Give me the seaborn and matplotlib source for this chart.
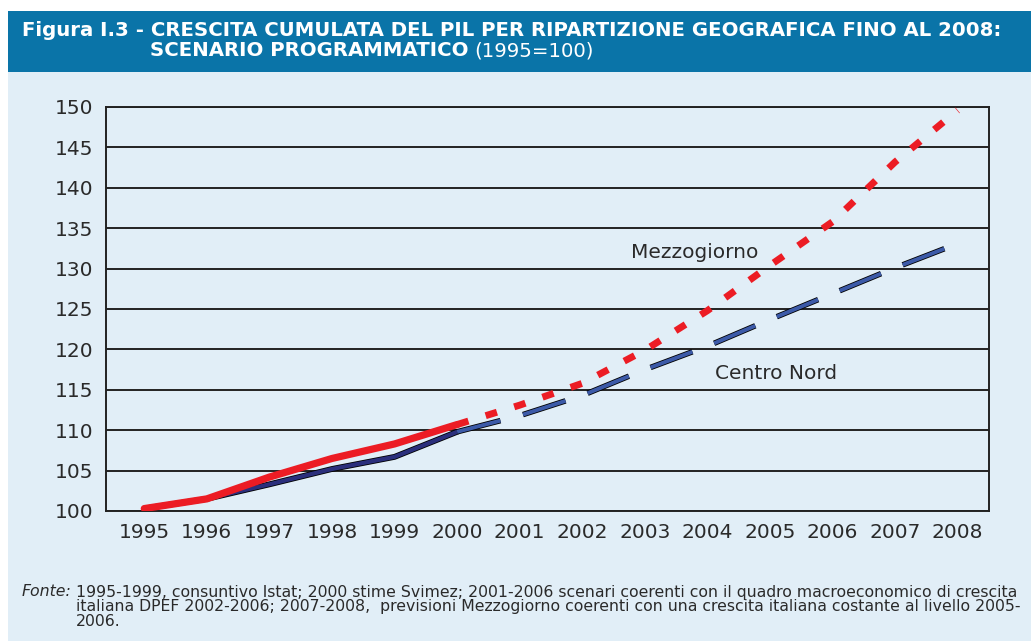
import numpy as np
import pandas as pd
import seaborn as sns
import matplotlib.pyplot as plt
import matplotlib.patheffects as pe
from matplotlib.patches import Rectangle

# dati (1995=100)
anni = [1995, 1996, 1997, 1998, 1999, 2000, 2001, 2002, 2003, 2004, 2005, 2006, 2007, 2008]
centro_nord = [100.3, 101.5, 103.3, 105.2, 106.7, 109.8, 111.8, 114.3, 117.5, 120.4, 123.7, 126.9, 130.1, 133.1]
mezzogiorno = [100.3, 101.5, 104.2, 106.5, 108.3, 110.7, 113.1, 115.8, 119.9, 124.8, 130.4, 135.8, 143.2, 149.6]
y_ticks = [100, 105, 110, 115, 120, 125, 130, 135, 140, 145, 150]

df = pd.DataFrame({"anno": anni, "Centro Nord": centro_nord, "Mezzogiorno": mezzogiorno})
storico = df[df["anno"] <= 2000]
scenario = df[df["anno"] >= 2000]

BG = "#e1eef7"
HEADER = "#0a74a8"
TXT = "#2a2a2a"

sns.set_style("white")
plt.rcParams["font.family"] = ["DejaVu Sans"]

fig = plt.figure(figsize=(10.31, 6.41), dpi=100)
fig.patch.set_facecolor("white")
# sfondo azzurro e fascia del titolo
fig.add_artist(Rectangle((8 / 1031, 0), 1, 1 - 72 / 641, transform=fig.transFigure,
                         facecolor=BG, edgecolor="none", zorder=-2))
fig.add_artist(Rectangle((8 / 1031, 1 - 72 / 641), 1, 61 / 641, transform=fig.transFigure,
                         facecolor=HEADER, edgecolor="none", zorder=-1))

ax = fig.add_axes([106 / 1031, 1 - 511 / 641, (989 - 106) / 1031, (511 - 107) / 641])
ax.set_facecolor(BG)

# tratti storici (continui)
sns.lineplot(data=storico, x="anno", y="Centro Nord", ax=ax, color="#2b2f7c", linewidth=3.0,
             path_effects=[pe.Stroke(linewidth=4.2, foreground="black"), pe.Normal()], zorder=3)
sns.lineplot(data=storico, x="anno", y="Mezzogiorno", ax=ax, color="#ec1c24", linewidth=5.2, zorder=4)

# scenari (tratteggiati)
sns.lineplot(data=scenario, x="anno", y="Centro Nord", ax=ax, color="#3c5aa8", linewidth=2.8,
             zorder=3, path_effects=[pe.Stroke(linewidth=4.0, foreground="black"), pe.Normal()])
ax.lines[-1].set_dashes((11.5, 6))
sns.lineplot(data=scenario, x="anno", y="Mezzogiorno", ax=ax, color="#ec1c24", linewidth=5.0,
             zorder=4)
ax.lines[-1].set_dashes((1.7, 2.6))

ax.set_xlim(1994.5 - 7 / 62.6, 2008.5)
ax.set_ylim(100, 150)
ax.set_yticks(y_ticks)
ax.set_yticklabels([str(v) for v in y_ticks], fontsize=14.5, color=TXT)
ax.set_xticks(np.arange(1994.5, 2009.0, 1.0))
ax.set_xticklabels([])
ax.set_xticks(anni, minor=True)
ax.set_xticklabels([str(a) for a in anni], minor=True, fontsize=14.5, color=TXT)
ax.tick_params(axis="x", which="major", direction="out", length=5, width=1.2, color="#222222")
ax.tick_params(axis="x", which="minor", length=0, pad=9)
ax.tick_params(axis="y", length=0, pad=9)
ax.set_xlabel("")
ax.set_ylabel("")
ax.yaxis.grid(True, color="#222222", linewidth=1.4)
ax.set_axisbelow(True)
for s in ax.spines.values():
    s.set_color("#222222")
    s.set_linewidth(1.4)
    s.set_visible(True)

ax.text(2003.8, 132.0, "Mezzogiorno", fontsize=14.5, color=TXT, ha="center", va="center")
ax.text(2005.1, 117.0, "Centro Nord", fontsize=14.5, color=TXT, ha="center", va="center")

# titolo
fig.text(22 / 1031, 1 - 30 / 641, "Figura I.3 - CRESCITA CUMULATA DEL PIL PER RIPARTIZIONE GEOGRAFICA FINO AL 2008:",
         fontsize=14.2, fontweight="bold", color="white", va="center", ha="left")
t2 = fig.text(150 / 1031, 1 - 51 / 641, "SCENARIO PROGRAMMATICO", fontsize=14.2, fontweight="bold",
              color="white", va="center", ha="left")
fig.canvas.draw()
bb = t2.get_window_extent()
fig.text(bb.x1 / 1031 + 6 / 1031, 1 - 51 / 641, "(1995=100)", fontsize=14.2, color="white",
         va="center", ha="left")

# nota
fig.text(22 / 1031, 1 - 592 / 641, "Fonte:", fontsize=11.3, style="italic", color=TXT, va="center")
righe_nota = [
    "1995-1999, consuntivo Istat; 2000 stime Svimez; 2001-2006 scenari coerenti con il quadro macroeconomico di crescita",
    "italiana DPEF 2002-2006; 2007-2008,  previsioni Mezzogiorno coerenti con una crescita italiana costante al livello 2005-",
    "2006.",
]
for i, riga in enumerate(righe_nota):
    fig.text(76 / 1031, 1 - (592 + 14.5 * i) / 641, riga, fontsize=11.3, color=TXT, va="center")

fig.savefig("out.png", dpi=100, facecolor=fig.get_facecolor())
